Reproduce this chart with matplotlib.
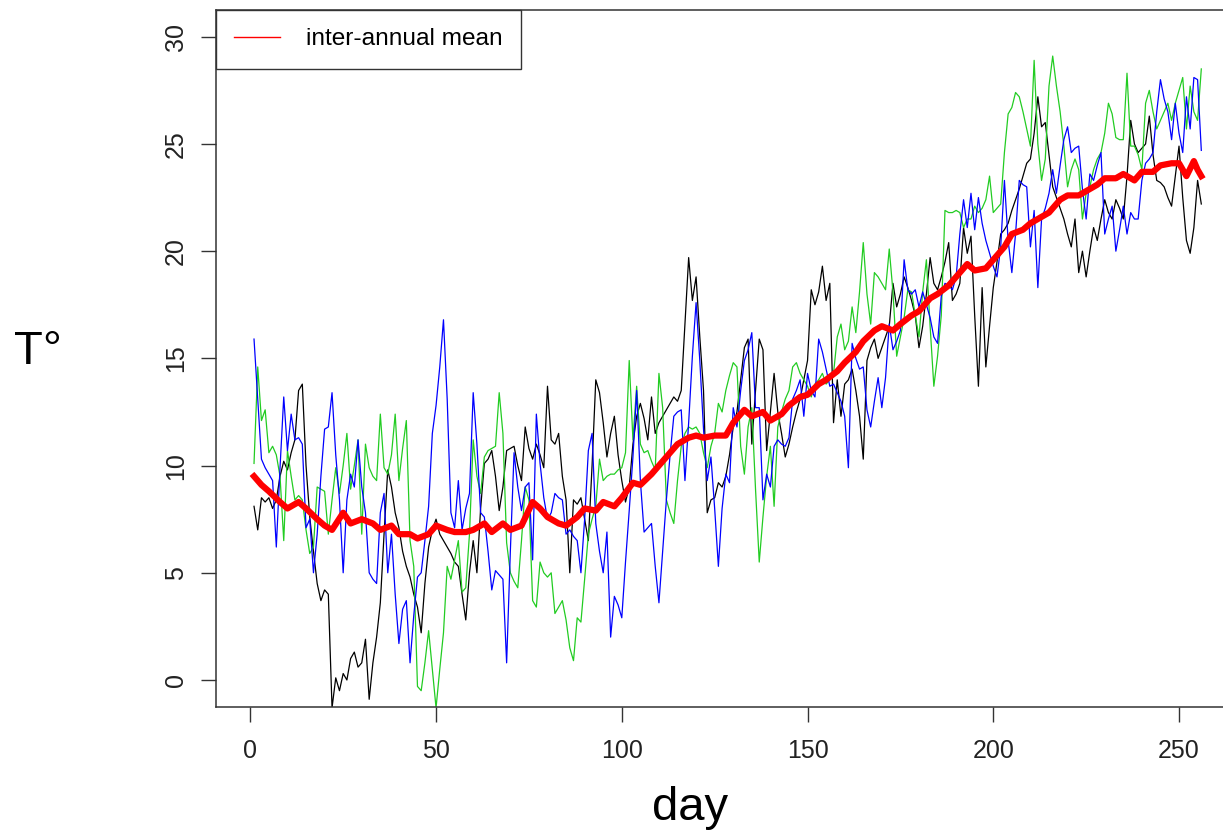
import numpy as np
import matplotlib
matplotlib.use("Agg")
import matplotlib.pyplot as plt
from matplotlib.lines import Line2D

plt.rcParams['font.family'] = ['Liberation Sans', 'DejaVu Sans']

# daily temperature, three years (day 1 .. 256)
year_black = [
    8.1, 7.0, 8.5, 8.3, 8.5, 8.0, 8.4, 9.5, 10.2, 9.8,
    10.6, 11.2, 13.5, 13.8, 10.0, 7.6, 6.0, 4.5, 3.7, 4.2,
    4.0, -1.3, 0.1, -0.5, 0.3, 0.0, 1.0, 1.3, 0.6, 0.8,
    1.9, -0.9, 0.8, 2.0, 3.6, 6.8, 9.8, 9.0, 7.8, 7.1,
    6.0, 5.3, 4.8, 4.0, 3.4, 2.2, 4.5, 6.2, 7.0, 7.5,
    6.8, 6.5, 6.2, 5.9, 5.5, 5.3, 4.0, 2.8, 5.0, 6.5,
    5.0, 8.0, 10.1, 10.3, 10.7, 9.5, 7.9, 9.0, 10.7, 10.8,
    10.9, 10.0, 9.3, 11.8, 10.8, 10.3, 11.0, 10.5, 9.9, 13.7,
    11.2, 11.0, 11.5, 9.5, 8.4, 5.0, 8.4, 8.2, 8.5, 7.5,
    6.5, 10.0, 14.0, 13.4, 12.0, 10.4, 11.5, 12.3, 10.5, 9.3,
    8.3, 9.0, 11.0, 12.3, 12.9, 12.2, 11.2, 13.2, 11.5, 12.0,
    12.3, 12.6, 12.9, 13.2, 13.0, 13.5, 16.6, 19.7, 17.7, 18.8,
    16.0, 13.5, 7.8, 8.4, 8.5, 9.2, 9.0, 9.5, 10.5, 11.8,
    12.5, 14.0, 15.5, 15.9, 11.0, 13.5, 15.9, 15.4, 10.7, 12.5,
    14.3, 12.5, 11.5, 10.4, 11.0, 11.8, 12.5, 13.1, 14.0, 14.9,
    18.2, 17.5, 18.1, 19.3, 17.7, 18.5, 12.0, 14.0, 12.3, 13.8,
    14.0, 14.5, 13.5, 12.3, 10.3, 14.9, 15.5, 15.9, 15.0, 15.5,
    16.0, 16.5, 18.5, 17.4, 18.0, 18.8, 18.3, 17.7, 17.0, 15.5,
    16.5, 18.0, 19.7, 18.5, 18.2, 18.8, 19.5, 20.4, 17.7, 18.0,
    18.5, 21.1, 19.9, 20.7, 17.0, 13.7, 18.3, 14.6, 16.5, 18.3,
    19.5, 20.8, 21.0, 21.3, 21.9, 22.4, 22.9, 23.5, 24.1, 24.3,
    25.5, 27.2, 25.8, 26.0, 24.5, 23.0, 22.5, 22.0, 21.5, 20.8,
    20.2, 21.5, 19.0, 20.0, 18.8, 20.0, 21.1, 20.5, 21.5, 22.4,
    21.8, 21.5, 22.4, 22.0, 21.5, 23.5, 26.1, 25.0, 24.6, 24.8,
    25.0, 26.3, 24.5, 23.3, 23.2, 23.0, 22.5, 22.1, 23.5, 24.9,
    22.5, 20.5, 19.9, 21.1, 23.3, 22.2,
]

year_blue = [
    15.9, 13.1, 10.3, 9.9, 9.6, 9.3, 6.2, 9.9, 13.2, 10.7,
    12.4, 11.2, 11.3, 11.0, 7.1, 7.5, 5.0, 6.8, 9.5, 11.7,
    11.8, 13.4, 10.5, 8.4, 5.0, 8.4, 9.6, 9.0, 11.2, 9.0,
    7.8, 5.0, 4.7, 4.5, 7.8, 8.7, 5.0, 6.8, 4.0, 1.7,
    3.3, 3.7, 0.8, 3.0, 4.8, 5.0, 6.5, 8.1, 11.5, 12.8,
    14.6, 16.8, 13.1, 7.8, 7.1, 9.3, 7.0, 8.0, 8.7, 13.4,
    11.0, 7.8, 7.6, 6.0, 4.2, 5.1, 4.9, 4.7, 0.8, 6.0,
    10.6, 9.0, 7.9, 9.0, 9.2, 5.6, 12.4, 10.1, 8.5, 7.5,
    7.8, 8.7, 8.5, 8.4, 6.8, 7.0, 6.7, 6.5, 5.0, 7.5,
    10.7, 11.5, 7.3, 6.0, 5.0, 6.9, 2.0, 3.9, 3.5, 2.9,
    5.5, 7.9, 10.4, 13.5, 9.3, 6.9, 7.1, 7.3, 5.3, 3.6,
    6.0, 8.4, 10.5, 12.3, 12.5, 12.6, 9.3, 12.0, 15.1, 17.6,
    14.9, 11.7, 9.3, 10.4, 8.0, 5.3, 8.0, 9.6, 9.2, 12.7,
    11.8, 13.5, 14.9, 15.4, 16.2, 12.7, 12.7, 8.4, 9.6, 9.0,
    10.9, 11.2, 11.0, 10.9, 11.3, 13.1, 13.5, 14.0, 12.3, 14.3,
    13.5, 13.2, 15.9, 15.3, 14.5, 13.7, 13.8, 13.4, 13.0, 12.3,
    9.9, 15.7, 15.0, 14.5, 14.6, 12.6, 11.8, 13.0, 14.1, 12.7,
    14.1, 16.6, 15.4, 15.8, 16.3, 19.6, 18.2, 18.0, 18.2, 17.4,
    18.1, 17.5, 16.9, 16.0, 15.7, 17.9, 18.5, 18.4, 18.2, 18.8,
    20.8, 22.4, 21.1, 22.7, 21.0, 22.5, 21.3, 20.5, 19.9, 19.3,
    18.8, 20.2, 23.3, 20.5, 19.0, 20.8, 23.3, 23.1, 23.0, 20.2,
    21.9, 18.3, 21.5, 22.0, 22.7, 23.8, 22.7, 24.0, 25.2, 25.8,
    24.6, 24.8, 24.9, 22.9, 21.5, 23.6, 23.3, 24.0, 24.6, 20.8,
    21.5, 22.1, 20.0, 21.0, 22.1, 20.8, 21.8, 21.5, 21.5, 23.3,
    24.1, 24.3, 24.6, 26.5, 28.0, 27.1, 26.5, 25.2, 26.9, 25.5,
    24.6, 27.2, 25.7, 28.1, 28.0, 24.7,
]

year_green = [
    10.1, 14.6, 12.1, 12.6, 10.6, 10.9, 10.5, 9.5, 6.5, 10.7,
    9.5, 8.4, 8.6, 8.4, 7.0, 5.9, 6.2, 9.0, 8.9, 8.8,
    6.8, 8.4, 9.9, 8.7, 10.0, 11.5, 8.9, 10.0, 11.2, 6.8,
    11.0, 9.9, 9.5, 9.3, 12.4, 9.9, 9.6, 10.5, 12.4, 9.3,
    10.8, 12.1, 6.5, 5.3, -0.3, -0.5, 0.8, 2.3, 0.5, -1.3,
    0.5, 2.2, 5.3, 4.7, 5.6, 6.5, 4.1, 4.3, 6.8, 11.2,
    9.5, 8.7, 10.4, 10.7, 10.8, 10.9, 13.4, 11.5, 6.4, 5.0,
    4.6, 4.3, 6.5, 9.0, 8.4, 3.7, 3.4, 5.5, 5.0, 4.8,
    5.0, 3.1, 3.4, 3.7, 2.8, 1.5, 0.9, 2.9, 2.7, 4.7,
    6.8, 7.5, 8.1, 10.3, 9.3, 9.5, 9.6, 9.6, 9.8, 9.9,
    10.6, 14.9, 11.2, 13.7, 11.0, 10.6, 10.7, 10.2, 9.8, 14.3,
    12.7, 8.4, 7.8, 7.3, 9.3, 10.9, 11.5, 11.8, 11.7, 11.8,
    11.5, 10.6, 9.9, 10.9, 11.5, 12.9, 12.5, 13.5, 14.2, 14.8,
    14.6, 10.9, 9.6, 11.8, 12.7, 8.9, 5.5, 7.6, 9.5, 10.9,
    8.1, 11.8, 12.5, 13.1, 13.5, 14.6, 14.8, 14.3, 14.0, 13.7,
    13.2, 13.8, 14.0, 14.3, 13.8, 14.0, 14.3, 16.0, 16.6, 15.4,
    15.8, 17.4, 16.2, 18.1, 20.4, 18.0, 16.6, 19.0, 18.8, 18.5,
    18.2, 20.1, 18.1, 15.1, 16.0, 16.9, 18.2, 18.1, 17.0, 16.0,
    18.1, 19.6, 16.5, 13.7, 15.1, 17.0, 21.9, 21.8, 21.8, 21.9,
    21.8, 21.1, 21.5, 21.5, 22.1, 21.8, 22.0, 22.4, 23.5, 21.8,
    22.0, 22.2, 24.6, 26.4, 26.7, 27.4, 27.2, 26.5, 25.7, 24.9,
    28.9, 25.0, 23.3, 24.3, 27.7, 29.1, 27.7, 26.5, 24.9, 23.0,
    23.8, 24.3, 23.8, 21.5, 22.7, 23.0, 23.8, 24.3, 24.6, 25.5,
    26.9, 26.4, 25.3, 25.2, 25.2, 28.3, 24.9, 24.9, 24.5, 23.8,
    26.9, 27.5, 26.5, 25.7, 26.1, 26.5, 26.9, 26.1, 26.9, 27.5,
    28.1, 25.7, 27.7, 26.5, 26.1, 28.5,
]

# inter-annual mean
mean_days = [1, 3, 5, 8, 10, 13, 15, 18, 20, 22, 25, 27, 30, 33, 35, 38, 40,
             43, 45, 48, 50, 53, 55, 58, 60, 63, 65, 68, 70, 73, 76, 78, 80,
             83, 85, 88, 90, 93, 95, 98, 100, 103, 105, 108, 110, 113, 115,
             118, 120, 122, 125, 128, 130, 133, 135, 138, 140, 143, 145, 148,
             150, 153, 155, 158, 160, 163, 165, 168, 170, 173, 175, 178, 180,
             183, 185, 188, 190, 193, 195, 198, 200, 203, 205, 208, 210, 213,
             215, 218, 220, 223, 225, 228, 230, 233, 235, 238, 240, 243, 245,
             248, 250, 252, 254, 255, 256]
mean_vals = [9.5, 9.1, 8.8, 8.3, 8.0, 8.3, 8.0, 7.5, 7.2, 7.0, 7.8, 7.3, 7.5,
             7.3, 7.0, 7.2, 6.8, 6.8, 6.6, 6.8, 7.2, 7.0, 6.9, 6.9, 7.0, 7.3,
             6.9, 7.3, 7.0, 7.2, 8.3, 8.0, 7.6, 7.3, 7.2, 7.6, 8.0, 7.9, 8.3,
             8.1, 8.5, 9.2, 9.1, 9.6, 10.0, 10.6, 11.0, 11.3, 11.4, 11.3,
             11.4, 11.4, 12.0, 12.6, 12.3, 12.5, 12.1, 12.4, 12.8, 13.2, 13.3,
             13.8, 14.0, 14.4, 14.8, 15.3, 15.8, 16.3, 16.5, 16.3, 16.6, 17.0,
             17.2, 17.8, 18.0, 18.4, 18.8, 19.4, 19.1, 19.2, 19.6, 20.2, 20.8,
             21.0, 21.3, 21.6, 21.8, 22.4, 22.6, 22.6, 22.8, 23.1, 23.4, 23.4,
             23.6, 23.3, 23.7, 23.7, 24.0, 24.1, 24.1, 23.5, 24.2, 23.8, 23.5]

fig = plt.figure(figsize=(12.23, 8.30), dpi=100)
ax = fig.add_axes([0.1766, 0.1482, 0.8398, 0.8398])

ax.plot(np.arange(1, len(year_black) + 1), year_black, color='black', lw=0.9)
ax.plot(np.arange(1, len(year_green) + 1), year_green, color='#22CC22', lw=0.9)
ax.plot(np.arange(1, len(year_blue) + 1), year_blue, color='#0000FF', lw=0.9)
ax.plot(mean_days, mean_vals, color='#FF0000', lw=4.5, solid_joinstyle='round')

ax.set_xlim(-9.24, 267.24)
ax.set_ylim(-1.26, 31.25)
ax.set_xticks([0, 50, 100, 150, 200, 250])
ax.set_yticks([0, 5, 10, 15, 20, 25, 30])
ax.tick_params(axis='both', length=11, width=1.0, color='#333333',
               labelsize=18, labelcolor='#222222')
ax.tick_params(axis='x', pad=12)
ax.tick_params(axis='y', pad=9)
for lab in ax.get_yticklabels():
    lab.set_rotation(90)
    lab.set_va('center')
for sp in ax.spines.values():
    sp.set_color('#333333')
    sp.set_linewidth(1.1)

fig.text(0.031, 0.576, 'T°', fontsize=34, ha='center', va='center')
fig.text(0.564, 0.026, 'day', fontsize=34, ha='center', va='center')

handle = Line2D([], [], color='#FF0000', lw=1.0)
leg = ax.legend([handle], ['inter-annual mean'], loc='upper left',
                bbox_to_anchor=(0, 1), borderaxespad=0, fontsize=17.6,
                fancybox=False, framealpha=1, edgecolor='#333333',
                handlelength=1.85, handletextpad=1.1, borderpad=0.75)
leg.get_frame().set_linewidth(1.0)

fig.savefig('out.png', dpi=100)
